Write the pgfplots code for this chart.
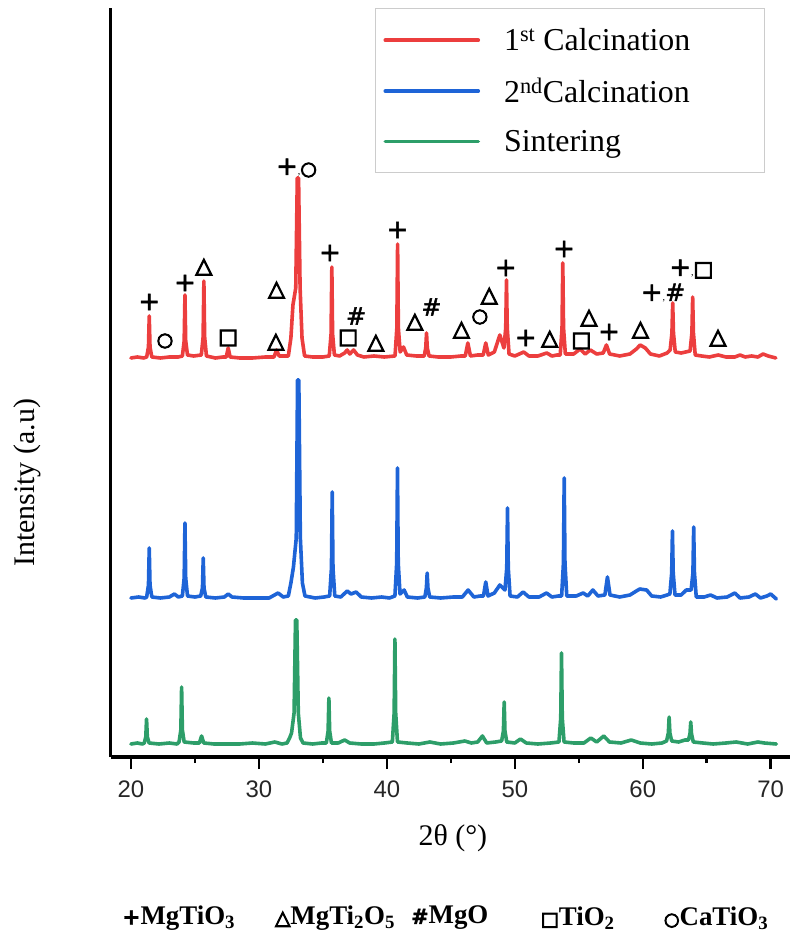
\documentclass[border=0pt]{standalone}
\usepackage{fontspec}
\setmainfont{Liberation Serif}
\setsansfont{Liberation Sans}
\newfontfamily\symf[FakeBold=2]{DejaVu Sans}
\newfontfamily\symg[FakeBold=5]{DejaVu Sans}
\usepackage{pgfplots}
\pgfplotsset{compat=1.18}
\definecolor{cred}{RGB}{236,62,62}
\definecolor{cblue}{RGB}{30,100,215}
\definecolor{cgreen}{RGB}{45,158,105}
\newcommand\sP[1][26]{{\symf\fontsize{#1}{#1}\selectfont +}}
\newcommand\sT[1][22]{{\symg\fontsize{#1}{#1}\selectfont △}}
\newcommand\sH[1][24]{{\symf\fontsize{#1}{#1}\selectfont \#}}
\newcommand\sS[1][21]{{\symg\fontsize{#1}{#1}\selectfont □}}
\newcommand\sO[1][19]{{\symg\fontsize{#1}{#1}\selectfont ○}}
\begin{document}
\begin{tikzpicture}
\begin{axis}[
 scale only axis, width=679bp, height=749bp,
 xmin=18.414, xmax=71.48, ymin=181, ymax=930,
 axis x line=bottom, axis y line=left,
 axis line style={line width=3.2bp,-},
 every inner x axis line/.append style={-},
 every outer x axis line/.append style={-},
 every inner y axis line/.append style={-},
 every outer y axis line/.append style={-},
 xtick={20,30,...,70}, minor xtick={25,35,...,65},
 ytick=\empty,
 tick align=outside,
 major tick length=12bp, minor tick length=6bp,
 every tick/.style={line width=2.5bp, black},
 /pgf/number format/assume math mode=true,
 xticklabel style={font=\fontsize{24}{24}\selectfont\sffamily, text=black!85, yshift=-8bp},
 xlabel={2θ (°)},
 xlabel style={at={(rel axis cs:0.504,-0.108)}, anchor=center, font=\fontsize{30}{30}\selectfont},
 ylabel={Intensity (a.u)},
 ylabel style={at={(rel axis cs:-0.1233,0.366)}, anchor=center, font=\fontsize{30}{30}\selectfont},
 clip=false,
 legend style={at={(rel axis cs:0.3893,1)}, anchor=north west, draw=black!20, line width=1bp, fill=white,
   font=\fontsize{32}{32}\selectfont, inner xsep=8bp, inner ysep=18bp, row sep=22bp,
   /tikz/every odd column/.append style={column sep=22bp}},
 legend cell align=left,
 legend image code/.code={\draw[#1] (0bp,0bp) -- (93bp,0bp);},
 every axis plot/.append style={line width=3.6bp, line join=round, line cap=round},
]
\addplot[cred] coordinates {
(20.0,580)(20.5,581)(21.0,580)
(21.23,581)(21.37,591)(21.43,622)(21.49,591)(21.63,581)
(22.3,580)(23.0,581)(23.7,581)
(24.02,582)(24.16,597)(24.22,643)(24.28,597)(24.42,583)
(24.9,582)
(25.5,583)(25.64,601)(25.70,657)(25.76,601)(25.90,582)
(26.6,580)(27.2,581)
(27.45,581)(27.6,590)(27.75,581)
(28.5,580)(29.5,580)(30.5,581)
(31.18,581)(31.38,588)(31.58,582)
(32.3,582)(32.5,600)(32.66,633)(32.88,650)(33.0,760)(33.1,760)(33.22,650)(33.37,600)(33.57,582)
(34.2,581)(35.0,581)
(35.5,582)(35.64,604)(35.70,671)(35.76,604)(35.90,583)
(36.3,582)(36.7,585)(36.9,588)(37.1,584)(37.4,588)(37.7,583)(38.2,581)(39.0,582)(39.8,581)
(40.64,582)(40.78,610)(40.84,694)(40.90,610)(41.04,586)(41.3,591)(41.55,583)
(42.3,582)
(42.92,582)(43.04,590)(43.10,605)(43.16,590)(43.30,582)
(44.0,581)(45.0,581)(45.8,582)
(46.13,582)(46.33,595)(46.53,582)
(47.1,583)
(47.53,583)(47.73,595)(47.93,583)
(48.4,586)(48.83,603)
(49.15,590)(49.29,610)(49.35,658)(49.41,610)(49.55,584)
(50.0,582)(50.7,586)(51.1,582)(51.8,582)(52.5,585)(52.9,582)(53.3,583)
(53.55,583)(53.69,610)(53.75,675)(53.81,610)(53.95,584)
(54.6,584)(55.1,589)(55.5,584)(55.9,588)(56.4,584)
(56.91,585)(57.16,593)(57.41,584)
(58.2,582)(59.0,584)(59.5,589)(59.8,593)(60.2,590)(60.6,584)(61.3,582)(61.9,585)
(62.14,588)(62.28,605)(62.34,635)(62.40,605)(62.54,586)(63.0,585)
(63.7,587)(63.84,605)(63.90,641)(63.96,605)(64.10,583)
(64.6,582)(65.2,581)(65.9,583)(66.5,581)(67.2,581)(67.6,583)(68.0,581)(68.5,582)(69.0,581)(69.4,584)(69.8,582)(70.4,580)
};
\addlegendentry{\makebox[250bp][l]{1\textsuperscript{st} Calcination}}
\addplot[cblue] coordinates {
(20.0,340)(20.6,341)(21.1,340)
(21.23,341)(21.37,353)(21.43,390)(21.49,353)(21.63,341)
(22.3,340)(23.0,341)(23.4,344)(23.7,341)
(24.02,342)(24.16,360)(24.22,415)(24.28,360)(24.42,342)
(25.0,341)
(25.45,342)(25.59,350)(25.65,380)(25.71,350)(25.85,341)
(26.6,340)(27.3,341)(27.6,344)(27.9,341)(28.8,340)(29.8,340)(30.8,340)(31.5,345)(31.9,341)
(32.3,342)(32.5,355)(32.7,371)(32.92,400)(33.02,558)(33.12,558)(33.24,400)(33.4,355)(33.6,342)
(34.4,340)(35.1,341)
(35.53,342)(35.67,370)(35.73,446)(35.79,370)(35.93,342)
(36.4,341)(36.9,347)(37.2,344)(37.6,346)(38.0,341)(38.8,340)(39.6,341)(40.2,340)
(40.63,342)(40.77,375)(40.83,470)(40.89,375)(41.03,344)(41.35,348)(41.6,341)
(42.4,340)
(42.97,341)(43.09,350)(43.15,365)(43.21,350)(43.35,341)
(44.2,340)(45.2,341)(45.9,341)(46.35,348)(46.8,341)(47.3,342)
(47.55,342)(47.73,356)(47.91,342)(48.4,345)(48.83,353)
(49.23,348)(49.37,370)(49.43,430)(49.49,370)(49.63,342)
(50.2,341)(50.65,346)(51.1,341)(51.9,341)(52.48,345)(52.9,341)(53.4,342)
(53.66,342)(53.8,375)(53.86,460)(53.92,375)(54.06,342)
(54.8,342)(55.34,345)(55.7,342)(56.1,348)(56.5,342)
(57.04,343)(57.24,361)(57.44,343)
(58.2,341)(59.0,343)(59.5,347)(59.77,349)(60.3,348)(60.7,342)(61.4,341)(61.9,343)
(62.12,344)(62.26,365)(62.32,407)(62.38,365)(62.52,343)
(63.0,343)(63.4,348)
(63.78,348)(63.92,365)(63.98,411)(64.04,365)(64.18,341)
(64.8,341)(65.3,343)(65.8,340)(66.6,341)(67.2,345)(67.6,340)(68.3,341)(68.8,344)(69.2,340)(69.7,342)(70.0,344)(70.44,339)
};
\addlegendentry{\makebox[250bp][l]{2\textsuperscript{nd}Calcination}}
\addplot[cgreen] coordinates {
(20.0,194)(20.5,195)(20.9,194)
(21.04,195)(21.16,201)(21.22,219)(21.28,201)(21.42,195)
(22.2,194)(23.0,195)(23.6,194)
(23.76,196)(23.9,208)(23.96,251)(24.02,208)(24.16,196)
(24.9,195)
(25.35,195)(25.52,202)(25.69,195)
(26.5,194)(27.5,194)(28.5,194)(29.5,195)(30.5,194)(31.25,196)(31.8,194)
(32.2,195)(32.4,200)(32.55,205)(32.75,225)(32.86,318)(32.96,318)(33.08,225)(33.25,200)(33.45,195)
(34.2,194)(34.9,195)
(35.27,195)(35.41,207)(35.47,240)(35.53,207)(35.67,195)
(36.2,195)(36.7,198)(37.1,195)(38.0,194)(39.0,194)(39.8,195)
(40.43,196)(40.57,225)(40.63,299)(40.69,225)(40.83,196)
(41.6,195)(42.5,194)(43.36,196)(44.2,194)(45.2,195)(46.1,197)(46.6,195)(47.1,196)
(47.47,202)(47.8,195)(48.5,196)
(48.97,197)(49.11,207)(49.17,236)(49.23,207)(49.37,196)
(50.0,195)(50.44,199)(50.9,195)(51.8,194)(52.8,195)
(53.45,196)(53.59,220)(53.65,285)(53.71,220)(53.85,196)
(54.6,195)(55.4,195)(55.94,200)(56.4,196)(56.95,202)(57.4,196)(58.3,195)(59.1,198)(59.8,195)(60.7,194)(61.5,195)
(61.86,197)(62.0,205)(62.06,221)(62.12,205)(62.26,197)
(62.8,196)(63.3,198)
(63.57,198)(63.69,204)(63.75,216)(63.81,204)(63.95,196)
(64.7,195)(65.5,194)(66.5,195)(67.3,196)(68.2,194)(69.0,196)(69.5,195)(70.44,194)
};
\addlegendentry{\makebox[250bp][l]{Sintering}\rule[-10bp]{0pt}{1bp}}
% phase markers
\begin{scope}[every node/.style={inner sep=0pt}]
\node at (axis cs:21.43,636) {\sP};
\node at (axis cs:22.66,597) {\sO};
\node at (axis cs:24.22,655) {\sP};
\node at (axis cs:25.70,671) {\sT};
\node at (axis cs:27.60,600) {\sS};
\node at (axis cs:31.33,596) {\sT};
\node at (axis cs:31.38,648) {\sT};
\node at (axis cs:32.94,770) {\sP,\sO};
\node at (axis cs:35.55,685) {\sP};
\node at (axis cs:37.60,622) {\sH};
\node at (axis cs:36.98,600) {\sS};
\node at (axis cs:39.14,595) {\sT};
\node at (axis cs:40.83,708) {\sP};
\node at (axis cs:42.19,616) {\sT};
\node at (axis cs:43.49,631) {\sH};
\node at (axis cs:45.83,608) {\sT};
\node at (axis cs:47.27,621) {\sO};
\node at (axis cs:48.00,642) {\sT};
\node at (axis cs:49.30,670) {\sP};
\node at (axis cs:50.86,600) {\sP};
\node at (axis cs:52.73,599) {\sT};
\node at (axis cs:53.85,689) {\sP};
\node at (axis cs:55.20,597) {\sS};
\node at (axis cs:55.80,620) {\sT};
\node at (axis cs:57.37,606) {\sP};
\node at (axis cs:59.82,608) {\sT};
\node at (axis cs:61.59,645) {\sP,\sH};
\node at (axis cs:63.80,669) {\sP,\sS};
\node at (axis cs:65.88,600) {\sT};
\end{scope}
% key of phases
\node[anchor=west, inner sep=0pt, font=\fontsize{27}{27}\selectfont\bfseries] at (axis cs:19.30,20) {\sP[22]MgTiO\textsubscript{3}};
\node[anchor=west, inner sep=0pt, font=\fontsize{27}{27}\selectfont\bfseries] at (axis cs:31.25,20) {\sT[20]MgTi\textsubscript{2}O\textsubscript{5}};
\node[anchor=west, inner sep=0pt, font=\fontsize{27}{27}\selectfont\bfseries] at (axis cs:41.88,20) {\sH[21]MgO};
\node[anchor=west, inner sep=0pt, font=\fontsize{27}{27}\selectfont\bfseries] at (axis cs:52.03,20) {\sS[19]TiO\textsubscript{2}};
\node[anchor=west, inner sep=0pt, font=\fontsize{27}{27}\selectfont\bfseries] at (axis cs:61.64,20) {\sO[18]CaTiO\textsubscript{3}};
\coordinate (bbA) at (axis cs:9.766,0);
\coordinate (bbB) at (axis cs:72.03,938);
\end{axis}
\pgfresetboundingbox
\path[use as bounding box] (bbA) rectangle (bbB);
\end{tikzpicture}
\end{document}
